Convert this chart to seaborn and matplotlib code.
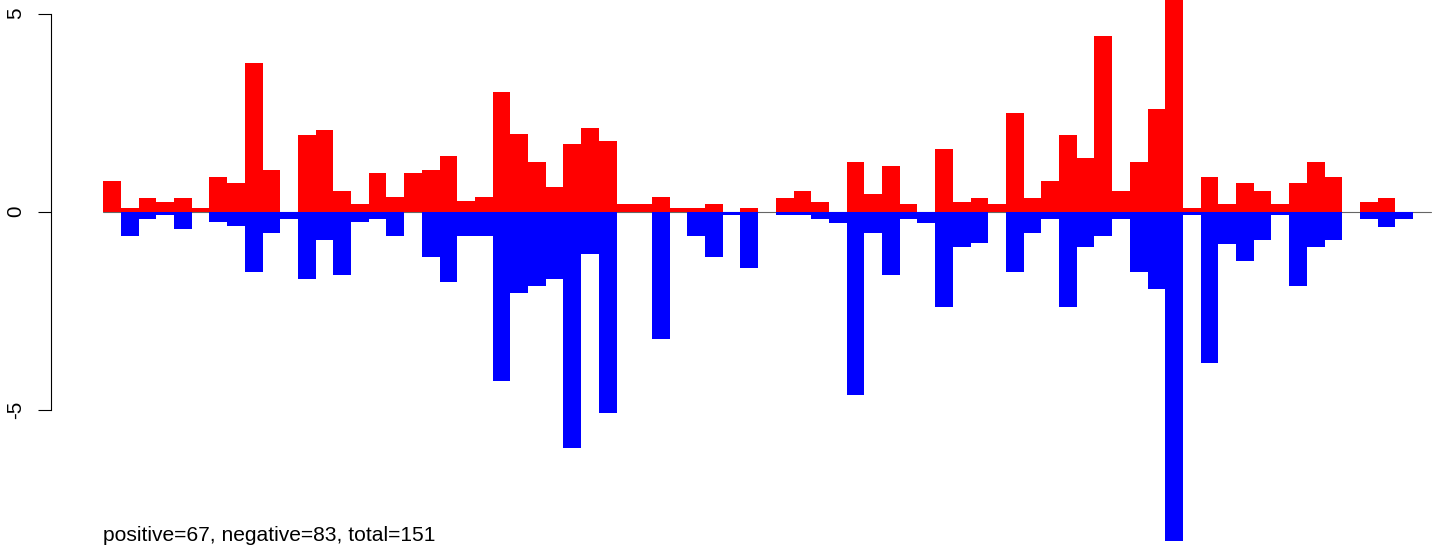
import seaborn as sns
import pandas as pd
import matplotlib
matplotlib.use("Agg")
import matplotlib.pyplot as plt

# per-bin sums (75 bins)
pos = [0.78, 0.08, 0.35, 0.25, 0.35, 0.08, 0.88, 0.71, 3.74, 1.06,
       0.00, 1.94, 2.05, 0.53, 0.18, 0.96, 0.36, 0.96, 1.06, 1.41,
       0.26, 0.36, 3.03, 1.95, 1.25, 0.61, 1.70, 2.12, 1.77, 0.18,
       0.18, 0.36, 0.08, 0.08, 0.18, 0.00, 0.08, 0.00, 0.35, 0.53,
       0.25, 0.00, 1.24, 0.43, 1.16, 0.18, 0.00, 1.59, 0.25, 0.35,
       0.18, 2.50, 0.35, 0.78, 1.94, 1.34, 4.44, 0.53, 1.24, 2.58,
       5.80, 0.08, 0.88, 0.18, 0.71, 0.53, 0.18, 0.71, 1.24, 0.88,
       0.00, 0.25, 0.35, 0.00, 0.00]
neg = [0.00, -0.62, -0.19, -0.10, -0.45, 0.00, -0.27, -0.37, -1.53, -0.55,
       -0.19, -1.71, -0.72, -1.61, -0.27, -0.20, -0.62, 0.00, -1.15, -1.78,
       -0.62, -0.62, -4.28, -2.06, -1.89, -1.71, -5.98, -1.08, -5.09, 0.00,
       0.00, -3.22, 0.00, -0.62, -1.15, -0.09, -1.43, 0.00, -0.09, -0.09,
       -0.19, -0.28, -4.64, -0.55, -1.61, -0.19, -0.28, -2.42, -0.90, -0.80,
       0.00, -1.53, -0.55, -0.19, -2.42, -0.90, -0.62, -0.19, -1.53, -1.96,
       -8.31, -0.10, -3.82, -0.81, -1.25, -0.72, -0.10, -1.89, -0.90, -0.72,
       0.00, -0.20, -0.38, -0.20, 0.00]
bins = list(range(len(pos)))
yticks = [-5, 0, 5]
ytick_labels = ["-5", "0", "5"]
note = "positive=67, negative=83, total=151"

df = pd.DataFrame({"bin": bins, "pos": pos, "neg": neg})

sns.set_style("white")
plt.rcParams["font.family"] = ["Liberation Sans", "DejaVu Sans"]
plt.rcParams["axes.unicode_minus"] = False

W, H = 1444, 551
fig = plt.figure(figsize=(W / 100, H / 100), dpi=100)
ax = fig.add_axes([50.7 / W, 0, 1 - 50.7 / W, 1])

ax.plot([-0.5, len(bins) - 0.5], [0, 0], color="#666666", lw=0.8, zorder=0)
sns.barplot(data=df, x="bin", y="pos", order=bins, color="#FF0000", saturation=1,
            width=1, linewidth=0, ax=ax, zorder=2)
sns.barplot(data=df, x="bin", y="neg", order=bins, color="#0000FF", saturation=1,
            width=1, linewidth=0, ax=ax, zorder=2)

ax.set_xlim(-0.5 - 52.6 / 17.7, (W - 103.3) / 17.7 - 0.5)
ax.set_ylim(-(H - 211.5) / 39.6, 211.5 / 39.6)

for s in ["top", "right", "bottom"]:
    ax.spines[s].set_visible(False)
ax.spines["left"].set_bounds(-5, 5)
ax.spines["left"].set_linewidth(0.8)
ax.spines["left"].set_color("black")
ax.set_xticks([])
ax.set_yticks(yticks)
ax.set_yticklabels(ytick_labels, rotation=90, va="center", fontsize=14.9, color="black")
ax.tick_params(axis="y", length=9.6, width=0.8, pad=8.8, left=True, color="black")
ax.set_xlabel("")
ax.set_ylabel("")
ax.patch.set_alpha(0)

ax.text(-0.5, -8.32, note, fontsize=15.1, color="black", ha="left", va="baseline")

fig.savefig("out.png", dpi=100)
